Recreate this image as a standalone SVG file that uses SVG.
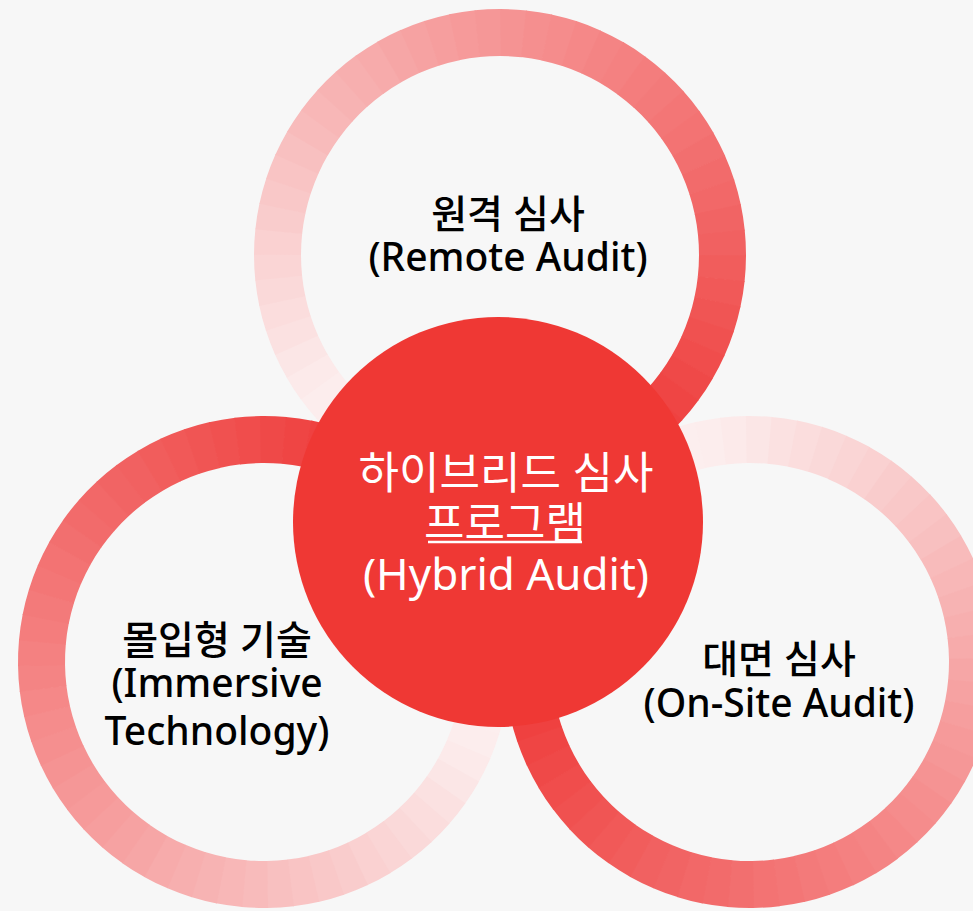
<svg xmlns="http://www.w3.org/2000/svg" xmlns:xlink="http://www.w3.org/1999/xlink" width="973" height="911" viewBox="0 0 973 911">
<style>
.segs circle{fill:none;stroke-width:47;stroke-dasharray:24 1400}
.lbl{font-family:"Noto Sans","Noto Sans CJK KR",sans-serif;font-size:39px;font-weight:500;fill:#000;text-anchor:middle}
.hub-t{font-family:"Noto Sans","Noto Sans CJK KR",sans-serif;font-size:44px;fill:#fff;text-anchor:middle}
</style>
<defs>
<g id="segs" class="segs">
<circle r="222.5" stroke="rgb(253,247,247)" stroke-dashoffset="0"/>
<circle r="222.5" stroke="rgb(253,246,246)" stroke-dashoffset="-23.3"/>
<circle r="222.5" stroke="rgb(253,245,245)" stroke-dashoffset="-46.6"/>
<circle r="222.5" stroke="rgb(253,243,243)" stroke-dashoffset="-69.9"/>
<circle r="222.5" stroke="rgb(253,242,242)" stroke-dashoffset="-93.2"/>
<circle r="222.5" stroke="rgb(252,241,241)" stroke-dashoffset="-116.5"/>
<circle r="222.5" stroke="rgb(252,239,239)" stroke-dashoffset="-139.8"/>
<circle r="222.5" stroke="rgb(252,238,238)" stroke-dashoffset="-163.1"/>
<circle r="222.5" stroke="rgb(252,237,237)" stroke-dashoffset="-186.4"/>
<circle r="222.5" stroke="rgb(252,234,234)" stroke-dashoffset="-209.7"/>
<circle r="222.5" stroke="rgb(251,230,230)" stroke-dashoffset="-233"/>
<circle r="222.5" stroke="rgb(251,225,225)" stroke-dashoffset="-256.3"/>
<circle r="222.5" stroke="rgb(251,221,221)" stroke-dashoffset="-279.6"/>
<circle r="222.5" stroke="rgb(250,217,217)" stroke-dashoffset="-302.9"/>
<circle r="222.5" stroke="rgb(250,213,213)" stroke-dashoffset="-326.2"/>
<circle r="222.5" stroke="rgb(250,209,209)" stroke-dashoffset="-349.5"/>
<circle r="222.5" stroke="rgb(249,204,204)" stroke-dashoffset="-372.8"/>
<circle r="222.5" stroke="rgb(249,200,200)" stroke-dashoffset="-396.1"/>
<circle r="222.5" stroke="rgb(249,196,196)" stroke-dashoffset="-419.4"/>
<circle r="222.5" stroke="rgb(248,192,192)" stroke-dashoffset="-442.7"/>
<circle r="222.5" stroke="rgb(248,187,187)" stroke-dashoffset="-466"/>
<circle r="222.5" stroke="rgb(248,183,183)" stroke-dashoffset="-489.3"/>
<circle r="222.5" stroke="rgb(247,179,179)" stroke-dashoffset="-512.6"/>
<circle r="222.5" stroke="rgb(247,175,175)" stroke-dashoffset="-535.9"/>
<circle r="222.5" stroke="rgb(247,171,171)" stroke-dashoffset="-559.2"/>
<circle r="222.5" stroke="rgb(246,166,166)" stroke-dashoffset="-582.5"/>
<circle r="222.5" stroke="rgb(246,162,162)" stroke-dashoffset="-605.8"/>
<circle r="222.5" stroke="rgb(246,158,158)" stroke-dashoffset="-629.1"/>
<circle r="222.5" stroke="rgb(246,154,154)" stroke-dashoffset="-652.4"/>
<circle r="222.5" stroke="rgb(245,151,151)" stroke-dashoffset="-675.7"/>
<circle r="222.5" stroke="rgb(245,147,147)" stroke-dashoffset="-699"/>
<circle r="222.5" stroke="rgb(245,143,143)" stroke-dashoffset="-722.3"/>
<circle r="222.5" stroke="rgb(245,140,140)" stroke-dashoffset="-745.6"/>
<circle r="222.5" stroke="rgb(245,136,136)" stroke-dashoffset="-768.9"/>
<circle r="222.5" stroke="rgb(244,132,132)" stroke-dashoffset="-792.2"/>
<circle r="222.5" stroke="rgb(244,129,129)" stroke-dashoffset="-815.5"/>
<circle r="222.5" stroke="rgb(244,125,125)" stroke-dashoffset="-838.8"/>
<circle r="222.5" stroke="rgb(243,122,122)" stroke-dashoffset="-862.1"/>
<circle r="222.5" stroke="rgb(243,118,118)" stroke-dashoffset="-885.4"/>
<circle r="222.5" stroke="rgb(243,115,115)" stroke-dashoffset="-908.7"/>
<circle r="222.5" stroke="rgb(242,111,111)" stroke-dashoffset="-932"/>
<circle r="222.5" stroke="rgb(242,107,107)" stroke-dashoffset="-955.3"/>
<circle r="222.5" stroke="rgb(242,104,104)" stroke-dashoffset="-978.6"/>
<circle r="222.5" stroke="rgb(241,100,100)" stroke-dashoffset="-1001.9"/>
<circle r="222.5" stroke="rgb(241,97,97)" stroke-dashoffset="-1025.2"/>
<circle r="222.5" stroke="rgb(241,93,92)" stroke-dashoffset="-1048.5"/>
<circle r="222.5" stroke="rgb(241,89,88)" stroke-dashoffset="-1071.8"/>
<circle r="222.5" stroke="rgb(240,85,84)" stroke-dashoffset="-1095.1"/>
<circle r="222.5" stroke="rgb(240,81,80)" stroke-dashoffset="-1118.4"/>
<circle r="222.5" stroke="rgb(240,77,76)" stroke-dashoffset="-1141.7"/>
<circle r="222.5" stroke="rgb(239,73,72)" stroke-dashoffset="-1165"/>
<circle r="222.5" stroke="rgb(239,69,68)" stroke-dashoffset="-1188.3"/>
<circle r="222.5" stroke="rgb(239,65,64)" stroke-dashoffset="-1211.6"/>
<circle r="222.5" stroke="rgb(239,63,61)" stroke-dashoffset="-1234.9"/>
<circle r="222.5" stroke="rgb(239,62,60)" stroke-dashoffset="-1258.2"/>
<circle r="222.5" stroke="rgb(239,61,59)" stroke-dashoffset="-1281.5"/>
<circle r="222.5" stroke="rgb(239,60,58)" stroke-dashoffset="-1304.8"/>
<circle r="222.5" stroke="rgb(239,59,56)" stroke-dashoffset="-1328.1"/>
<circle r="222.5" stroke="rgb(239,58,55)" stroke-dashoffset="-1351.4"/>
<circle r="222.5" stroke="rgb(239,57,54)" stroke-dashoffset="-1374.7"/>
</g>
</defs>
<rect width="973" height="911" fill="#f7f7f7"/>
<g id="ring-top">
<use xlink:href="#segs" href="#segs" transform="translate(500,255) rotate(90)"/>
</g>
<g id="ring-right">
<use xlink:href="#segs" href="#segs" transform="translate(750,662) rotate(209)"/>
</g>
<g id="ring-left">
<use xlink:href="#segs" href="#segs" transform="translate(264,662) rotate(329)"/>
</g>
<g id="hub">
<circle cx="498" cy="522" r="205" fill="#ef3834"/>
<text class="hub-t" x="506" y="489">하이브리드 심사</text>
<text class="hub-t" x="505" y="539">프로그램</text>
<line x1="428" y1="542" x2="582" y2="542" stroke="#fff" stroke-width="2.5"/>
<text class="hub-t" x="506" y="590">(Hybrid Audit)</text>
</g>
<g id="label-remote">
<text class="lbl" x="508" y="228">원격 심사</text>
<text class="lbl" x="508" y="271">(Remote Audit)</text>
</g>
<g id="label-immersive">
<text class="lbl" x="217" y="654">몰입형 기술</text>
<text class="lbl" x="217" y="697">(Immersive</text>
<text class="lbl" x="217" y="745">Technology)</text>
</g>
<g id="label-onsite">
<text class="lbl" x="779" y="673">대면 심사</text>
<text class="lbl" x="779" y="717">(On-Site Audit)</text>
</g>
</svg>
